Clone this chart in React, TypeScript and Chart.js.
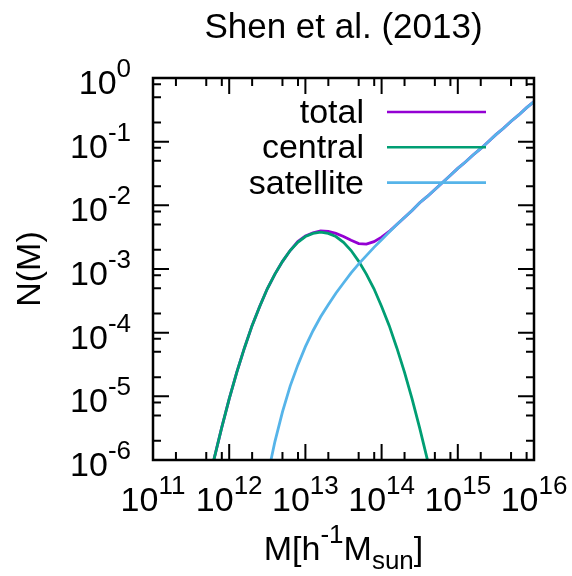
import { useEffect, useRef } from "react";
import { Chart, registerables } from "chart.js";

Chart.register(...registerables);

// log10 of halo mass, shared grid for all three curves
const logMass = [
  11.7, 11.8, 11.9, 12.0, 12.1, 12.2, 12.3, 12.4, 12.5, 12.6, 12.7,
  12.8, 12.9, 13.0, 13.1, 13.2, 13.3, 13.4, 13.5, 13.6, 13.7, 13.8,
  13.9, 14.0, 14.1, 14.2, 14.3, 14.4, 14.5, 14.6, 14.7, 14.8, 14.9,
  15.0, 15.1, 15.2, 15.3, 15.4, 15.5, 15.6, 15.7, 15.8, 15.9, 16.0,
];

// log10 N(M) for each component (null = not drawn)
const logTotal = [
  -6.52, -5.99, -5.5, -5.04, -4.62, -4.24, -3.89, -3.59, -3.31, -3.08, -2.88,
  -2.71, -2.57, -2.48, -2.43, -2.4, -2.41, -2.44, -2.49, -2.55, -2.6, -2.61,
  -2.57, -2.5, -2.41, -2.3, -2.19, -2.08, -1.96, -1.86, -1.75, -1.64, -1.53,
  -1.42, -1.32, -1.21, -1.11, -1.0, -0.89, -0.79, -0.68, -0.58, -0.47, -0.37,
];

const logCentral = [
  -6.52, -5.99, -5.5, -5.04, -4.62, -4.24, -3.89, -3.59, -3.31, -3.08, -2.88,
  -2.71, -2.58, -2.49, -2.44, -2.42, -2.44, -2.49, -2.58, -2.71, -2.88, -3.08,
  -3.31, -3.59, -3.89, -4.24, -4.62, -5.04, -5.5, -5.99, -6.52, null, null,
  null, null, null, null, null, null, null, null, null, null, null,
];

const logSatellite = [
  null, null, null, null, null, null, null, null, -6.27, -5.71, -5.24,
  -4.84, -4.51, -4.22, -3.97, -3.75, -3.56, -3.38, -3.22, -3.06, -2.92, -2.79,
  -2.66, -2.54, -2.42, -2.3, -2.19, -2.08, -1.96, -1.86, -1.75, -1.64, -1.53,
  -1.42, -1.32, -1.21, -1.11, -1.0, -0.89, -0.79, -0.68, -0.58, -0.47, -0.37,
];

const seriesNames = ["total", "central", "satellite"];
const seriesColors = ["#9400d3", "#009e73", "#56b4e9"];

const xDecades = [11, 12, 13, 14, 15, 16];
const yDecades = [0, -1, -2, -3, -4, -5, -6];
const minorMultiples = [2, 5, 8];

const titleText = "Shen et al. (2013)";
const yTitle = "N(M)";

const FONT = '"Liberation Sans", Arial, Helvetica, sans-serif';
const BIG = 34;
const SMALL = 26;

type Run = { text: string; size: number; dy: number };

function drawRuns(
  ctx: CanvasRenderingContext2D,
  runs: Run[],
  x: number,
  y: number,
  align: "left" | "center" | "right"
) {
  const widths = runs.map((r) => {
    ctx.font = `${r.size}px ${FONT}`;
    return ctx.measureText(r.text).width;
  });
  const total = widths.reduce((a, b) => a + b, 0);
  let cx = align === "center" ? x - total / 2 : align === "right" ? x - total : x;
  ctx.textAlign = "left";
  ctx.textBaseline = "alphabetic";
  runs.forEach((r, i) => {
    ctx.font = `${r.size}px ${FONT}`;
    ctx.fillText(r.text, cx, y + r.dy);
    cx += widths[i];
  });
}

function powerLabel(exp: number): Run[] {
  return [
    { text: "10", size: BIG, dy: 0 },
    { text: String(exp), size: SMALL, dy: -17 },
  ];
}

const framePlugin = {
  id: "gnuplotFrame",
  afterDatasetsDraw(chart: Chart) {
    const ctx = chart.ctx;
    const { left, right, top, bottom } = chart.chartArea;
    const xs = chart.scales.x;
    const ys = chart.scales.y;
    ctx.save();
    ctx.strokeStyle = "#000";
    ctx.fillStyle = "#000";
    ctx.lineWidth = 2;
    ctx.lineCap = "butt";

    const vTick = (px: number, len: number) => {
      ctx.beginPath();
      ctx.moveTo(px, bottom);
      ctx.lineTo(px, bottom - len);
      ctx.moveTo(px, top);
      ctx.lineTo(px, top + len);
      ctx.stroke();
    };
    const hTick = (py: number, len: number) => {
      ctx.beginPath();
      ctx.moveTo(left, py);
      ctx.lineTo(left + len, py);
      ctx.moveTo(right, py);
      ctx.lineTo(right - len, py);
      ctx.stroke();
    };

    xDecades.forEach((e, i) => {
      vTick(xs.getPixelForValue(Math.pow(10, e)), 16);
      if (i < xDecades.length - 1) {
        minorMultiples.forEach((m) => vTick(xs.getPixelForValue(m * Math.pow(10, e)), 8));
      }
    });
    yDecades.forEach((e) => {
      hTick(ys.getPixelForValue(Math.pow(10, e)), 16);
      if (e > -6) {
        minorMultiples.forEach((m) => hTick(ys.getPixelForValue(m * Math.pow(10, e - 1)), 8));
      }
    });

    ctx.lineWidth = 2.5;
    ctx.strokeRect(left, top, right - left, bottom - top);

    // tick labels
    xDecades.forEach((e) => {
      drawRuns(ctx, powerLabel(e), xs.getPixelForValue(Math.pow(10, e)), bottom + 51, "center");
    });
    yDecades.forEach((e) => {
      drawRuns(ctx, powerLabel(e), left - 22, ys.getPixelForValue(Math.pow(10, e)) + 16, "right");
    });

    // title
    drawRuns(ctx, [{ text: titleText, size: 35, dy: 0 }], (left + right) / 2, 38, "center");

    // x axis title
    drawRuns(
      ctx,
      [
        { text: "M[h", size: BIG, dy: 0 },
        { text: "-1", size: SMALL, dy: -17 },
        { text: "M", size: BIG, dy: 0 },
        { text: "sun", size: SMALL, dy: 9 },
        { text: "]", size: BIG, dy: 0 },
      ],
      (left + right) / 2,
      bottom + 100,
      "center"
    );

    // y axis title
    ctx.save();
    ctx.translate(40, (top + bottom) / 2);
    ctx.rotate(-Math.PI / 2);
    drawRuns(ctx, [{ text: yTitle, size: BIG, dy: 0 }], 0, 0, "center");
    ctx.restore();

    // key
    seriesNames.forEach((name, i) => {
      const y = top + 34 + i * 35.3;
      drawRuns(ctx, [{ text: name, size: BIG, dy: 0 }], 364, y + 11, "right");
      ctx.strokeStyle = seriesColors[i];
      ctx.lineWidth = 2.6;
      ctx.beginPath();
      ctx.moveTo(387, y);
      ctx.lineTo(486, y);
      ctx.stroke();
    });

    ctx.restore();
  },
};

function toPoints(values: (number | null)[]) {
  const pts: { x: number; y: number }[] = [];
  values.forEach((v, i) => {
    if (v !== null) pts.push({ x: Math.pow(10, logMass[i]), y: Math.pow(10, v) });
  });
  return pts;
}

export default function App() {
  const canvasRef = useRef<HTMLCanvasElement | null>(null);

  useEffect(() => {
    const canvas = canvasRef.current;
    if (!canvas) return;
    const seriesValues = [logTotal, logCentral, logSatellite];
    const chart = new Chart(canvas, {
      type: "line",
      data: {
        datasets: seriesNames.map((name, i) => ({
          label: name,
          data: toPoints(seriesValues[i]),
          borderColor: seriesColors[i],
          backgroundColor: seriesColors[i],
          borderWidth: 2.8,
          pointRadius: 0,
          fill: false,
          tension: 0,
          order: 3 - i,
        })),
      },
      options: {
        animation: false,
        responsive: false,
        devicePixelRatio: 1,
        layout: { padding: { left: 153, right: 38, top: 78, bottom: 116 } },
        scales: {
          x: { type: "logarithmic", min: 1e11, max: 1e16, display: false },
          y: { type: "logarithmic", min: 1e-6, max: 1, display: false },
        },
        plugins: {
          legend: { display: false },
          tooltip: { enabled: false },
          title: { display: false },
        },
      },
      plugins: [framePlugin],
    });
    return () => chart.destroy();
  }, []);

  return (
    <div style={{ position: "fixed", left: 0, top: 0, width: 572, height: 576, background: "#fff" }}>
      <canvas ref={canvasRef} width={572} height={576} style={{ display: "block" }} />
    </div>
  );
}
